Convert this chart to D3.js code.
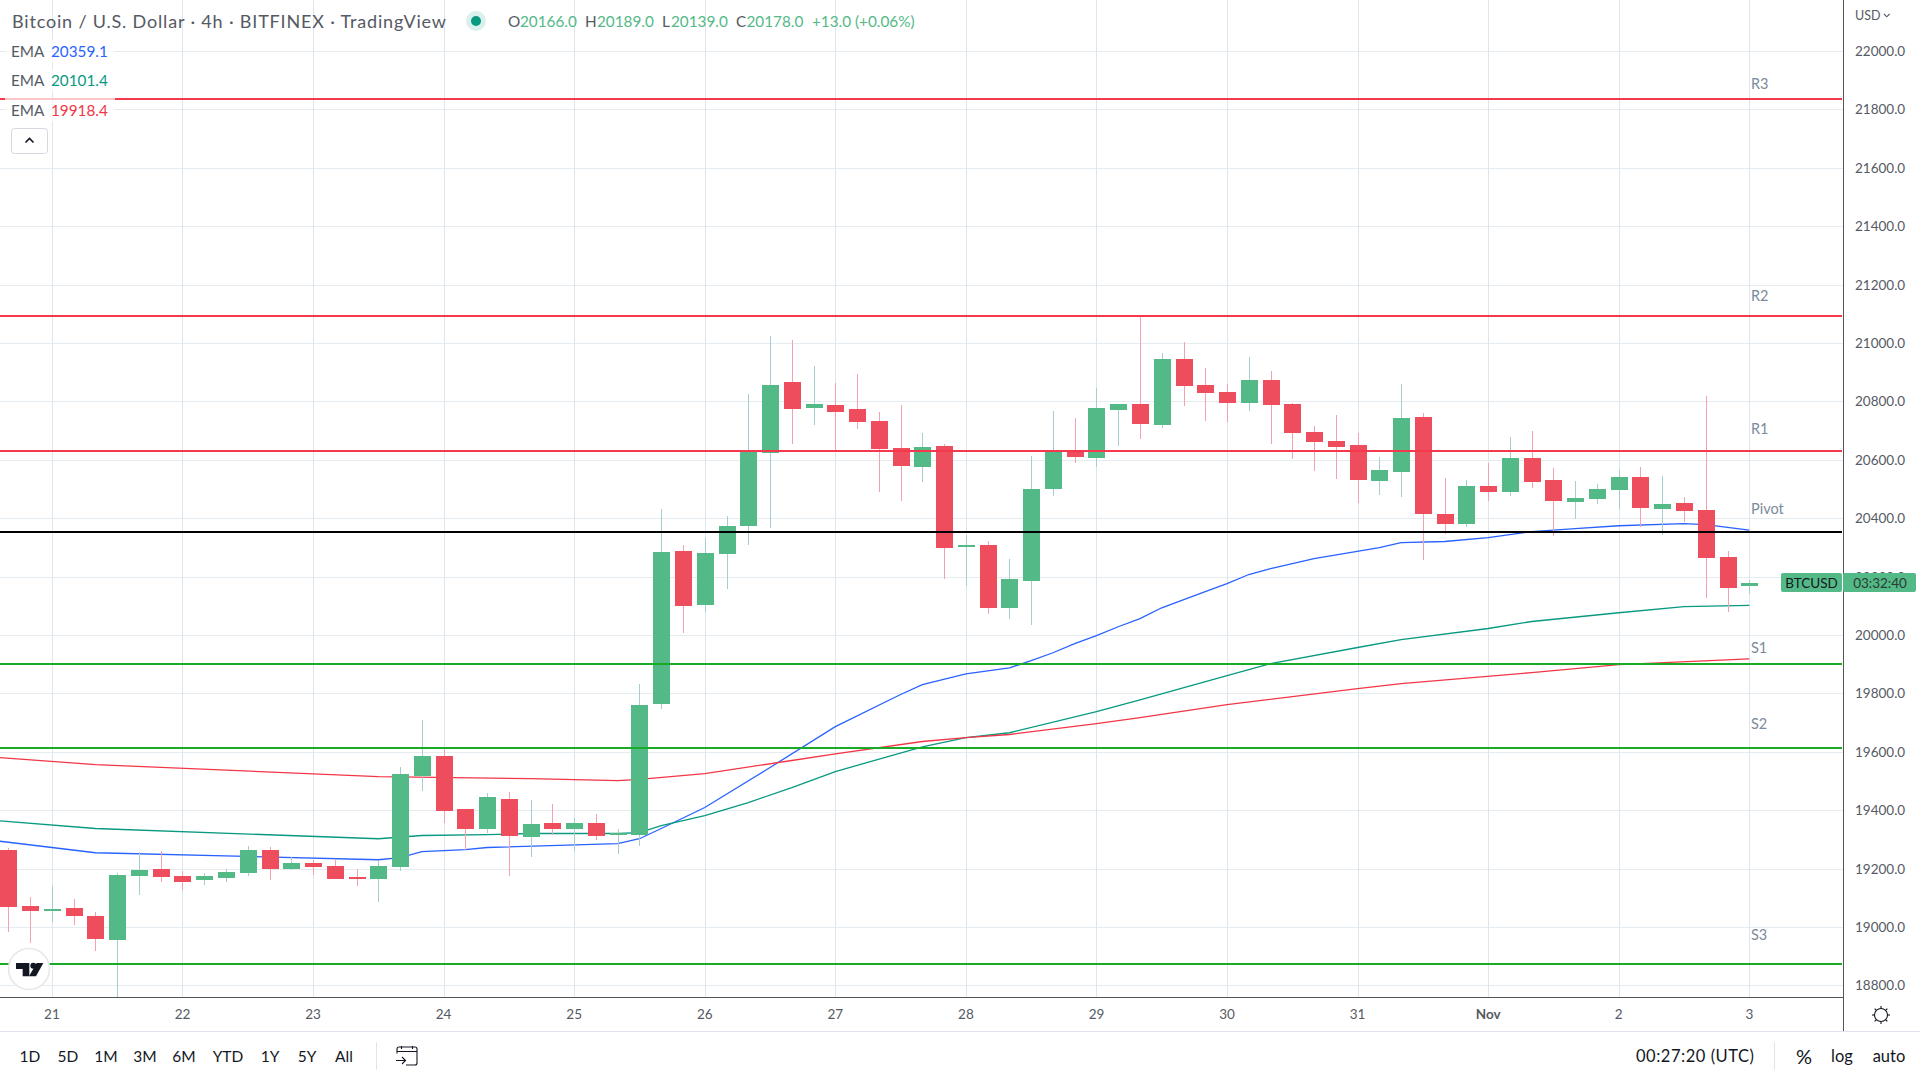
<!DOCTYPE html>
<html>
<head>
<meta charset="utf-8">
<script src="https://cdn.jsdelivr.net/npm/d3@7"></script>
<style>
html,body{margin:0;padding:0;background:#fff;overflow:hidden}
svg{display:block}
text{font-family:Lato,"Noto Sans",sans-serif}
</style>
</head>
<body>
<script>
// ---- data ----
const open  = [19265,19070,19056,19066,19039,18956,19176,19200,19176,19159,19169,19186,19265,19200,19220,19210,19172,19165,19206,19518,19587,19405,19337,19439,19309,19357,19337,19357,19316,19316,19765,20289,20104,20278,20374,20624,20867,20778,20789,20775,20734,20641,20576,20648,20302,20309,20093,20186,20501,20635,20607,20772,20792,20720,20946,20857,20833,20796,20874,20792,20696,20665,20652,20528,20559,20748,20415,20381,20511,20491,20607,20532,20456,20467,20498,20542,20433,20453,20429,20268,20166];
const high  = [19270,19104,19141,19094,19052,19183,19258,19261,19193,19183,19200,19278,19272,19238,19230,19234,19200,19227,19549,19710,19611,19405,19460,19463,19433,19422,19374,19385,19337,19833,20433,20309,20333,20409,20826,21025,21011,20922,20864,20895,20765,20789,20693,20655,20343,20323,20261,20614,20768,20744,20847,20792,21093,20967,21005,20915,20861,20953,20905,20796,20717,20754,20693,20611,20861,20761,20539,20532,20590,20679,20700,20573,20528,20518,20566,20576,20546,20474,20820,20289,20189];
const low   = [18982,18944,19016,19008,18916,18760,19108,19153,19125,19145,19155,19173,19159,19196,19179,19165,19141,19087,19193,19467,19357,19265,19320,19176,19241,19316,19261,19296,19251,19278,19748,20008,20080,20159,20309,20367,20655,20720,20635,20706,20491,20460,20525,20193,20169,20073,20056,20035,20477,20590,20576,20648,20672,20710,20785,20734,20730,20768,20655,20604,20563,20535,20453,20480,20474,20258,20347,20371,20460,20477,20504,20340,20398,20450,20433,20371,20343,20388,20128,20080,20139];
const close = [19067,19056,19063,19039,18960,19179,19196,19172,19155,19176,19189,19265,19200,19220,19206,19165,19165,19210,19522,19587,19398,19337,19446,19313,19354,19337,19357,19313,19323,19761,20285,20100,20282,20374,20631,20857,20775,20792,20765,20730,20638,20580,20645,20299,20309,20093,20193,20501,20631,20611,20778,20792,20724,20946,20854,20830,20796,20874,20789,20693,20662,20645,20532,20566,20744,20415,20381,20511,20491,20607,20525,20460,20470,20501,20542,20436,20450,20426,20265,20162,20178];

const emaBlueIdx = [-1,4,17,18,19,21,22,28,29,30,32,35,38,41,42,44,46,47,48,49,50,51,52,53,55,56,57,58,60,63,64,66,68,70,72,74,77,78,80];
const emaBlue    = [19299,19254,19230,19237,19258,19265,19272,19285,19302,19337,19409,19546,19686,19796,19830,19867,19887,19912,19939,19970,19998,20028,20056,20093,20148,20176,20207,20227,20261,20299,20316,20320,20333,20354,20364,20374,20381,20378,20359];
const emaGreenIdx = [-1,4,17,19,22,24,28,29,30,32,34,36,38,42,44,46,50,52,56,58,62,64,68,70,74,77,80];
const emaGreen    = [19367,19337,19302,19313,19316,19320,19320,19323,19347,19381,19426,19477,19532,19617,19648,19665,19737,19778,19861,19902,19957,19984,20022,20046,20076,20097,20101];
const emaRedIdx = [-1,4,17,24,28,29,32,36,38,42,44,46,50,52,56,62,64,70,74,80];
const emaRed    = [19583,19556,19515,19508,19501,19505,19525,19570,19593,19635,19648,19659,19696,19717,19761,19816,19833,19871,19898,19918];

const pivotNames  = ["R3","R2","R1","Pivot","S1","S2","S3"];
const pivotPrices = [21834,21092,20631,20352,19900,19612,18874];
const pivotKinds  = ["r","r","r","p","s","s","s"];
const pivotLabelY = [83,295,428,508,647,723,934];

const priceTicks = d3.range(18800,22001,200);
const dayLabels = ["21","22","23","24","25","26","27","28","29","30","31","Nov","2","3"];
const rangeButtons = ["1D","5D","1M","3M","6M","YTD","1Y","5Y","All"];
const rangeX = [30,68,106,145,184,228,270,307,344];

const titleText = "Bitcoin / U.S. Dollar · 4h · BITFINEX · TradingView";
const ohlcLabels = ["O","H","L","C"];
const ohlcValues = ["20166.0","20189.0","20139.0","20178.0"];
const changeText = "+13.0 (+0.06%)";
const legendName = "EMA";
const legendValues = ["20359.1","20101.4","19918.4"];

// ---- layout ----
const W=1920,H=1080, plotR=1843, plotB=997, footerT=1031;
const FONT_AXIS=13.5, FONT_TITLE=18, FONT_LEG=15.3;
const C={grid:"#e4ebf1",vgrid:"#dbe6ee",up:"#53b987",dn:"#ee4d5d",upW:"#a6cdd0",dnW:"#f5a2ae",
 res:"#f5384b",sup:"#19aa28",piv:"#000",blue:"#2962ff",green:"#089981",red:"#f23645",
 axis:"#555",txt:"#555a63",lab:"#7b8b9b",dark:"#131722"};

const x = d3.scaleLinear().domain([0,80]).range([8.4,1749.3]);
const y = d3.scaleLinear().domain([18800,22000]).range([985.3,51]);

const svg = d3.select("body").append("svg").attr("width",W).attr("height",H);
svg.append("rect").attr("width",W).attr("height",H).attr("fill","#fff");
svg.append("clipPath").attr("id","plot").append("rect").attr("width",plotR).attr("height",plotB);
const plot = svg.append("g").attr("clip-path","url(#plot)");

// grid
plot.selectAll("line.h").data(priceTicks).join("line").attr("class","h")
  .attr("x1",0).attr("x2",plotR).attr("y1",d=>Math.round(y(d))+.5).attr("y2",d=>Math.round(y(d))+.5)
  .attr("stroke",C.grid);
const dayIdx = dayLabels.map((_,k)=>2+6*k);
plot.selectAll("line.v").data(dayIdx).join("line").attr("class","v")
  .attr("y1",0).attr("y2",plotB).attr("x1",d=>Math.round(x(d))+.5).attr("x2",d=>Math.round(x(d))+.5)
  .attr("stroke",C.vgrid);

// EMAs
const emaLine = d3.line().x(d=>x(d[0])).y(d=>y(d[1]));
[[emaBlueIdx,emaBlue,C.blue],[emaGreenIdx,emaGreen,C.green],[emaRedIdx,emaRed,C.red]].forEach(([ix,v,c])=>{
  plot.append("path").attr("d",emaLine(ix.map((d,k)=>[d,v[k]]))).attr("fill","none").attr("stroke",c).attr("stroke-width",1.3);
});

// candles
const idx = d3.range(open.length);
const cx = i=>Math.round(x(i));
plot.selectAll("rect.w").data(idx).join("rect").attr("class","w")
  .attr("x",i=>cx(i)).attr("width",1)
  .attr("y",i=>Math.round(y(high[i]))).attr("height",i=>Math.round(y(low[i]))-Math.round(y(high[i])))
  .attr("fill",i=>close[i]>=open[i]?C.upW:C.dnW);
plot.selectAll("rect.b").data(idx).join("rect").attr("class","b")
  .attr("x",i=>cx(i)-8).attr("width",17)
  .attr("y",i=>Math.round(y(Math.max(open[i],close[i]))))
  .attr("height",i=>Math.max(2,Math.round(y(Math.min(open[i],close[i])))-Math.round(y(Math.max(open[i],close[i])))))
  .attr("fill",i=>close[i]>=open[i]?C.up:C.dn);

// pivot levels
const kindColor={r:C.res,s:C.sup,p:C.piv};
plot.selectAll("line.p").data(pivotPrices).join("line").attr("class","p")
  .attr("x1",0).attr("x2",plotR-1).attr("y1",d=>Math.round(y(d))).attr("y2",d=>Math.round(y(d)))
  .attr("stroke",(d,i)=>kindColor[pivotKinds[i]]).attr("stroke-width",2);
plot.selectAll("text.pl").data(pivotNames).join("text").attr("class","pl")
  .attr("x",1751).attr("y",(d,i)=>pivotLabelY[i]).attr("dominant-baseline","central")
  .attr("font-size",14.5).attr("fill",C.lab).text(d=>d);

// right axis
svg.append("rect").attr("x",plotR+1).attr("y",0).attr("width",W-plotR).attr("height",footerT).attr("fill","#fff");
svg.selectAll("text.pt").data(priceTicks).join("text").attr("class","pt")
  .attr("x",1855).attr("y",d=>y(d)).attr("dominant-baseline","central")
  .attr("font-size",FONT_AXIS).attr("fill",C.txt).text(d=>d.toFixed(1));
svg.append("rect").attr("x",plotR).attr("y",0).attr("width",1).attr("height",footerT).attr("fill",C.axis);
svg.append("rect").attr("x",0).attr("y",plotB).attr("width",plotR).attr("height",1).attr("fill",C.axis);
svg.append("rect").attr("x",0).attr("y",footerT).attr("width",W).attr("height",1).attr("fill","#e0e3eb");

svg.append("text").attr("x",1855).attr("y",15).attr("dominant-baseline","central").attr("font-size",12.5).attr("fill",C.txt).text("USD");
svg.append("path").attr("d","M1884 14l2.8 2.8l2.8-2.8").attr("fill","none").attr("stroke",C.txt).attr("stroke-width",1.1);

// day labels
svg.selectAll("text.dl").data(dayLabels).join("text").attr("class","dl")
  .attr("x",(d,i)=>x(dayIdx[i])).attr("y",1014).attr("text-anchor","middle").attr("dominant-baseline","central")
  .attr("font-size",13.5).attr("fill",C.txt).attr("font-weight",d=>d==="Nov"?700:400).text(d=>d);

// last price tag
const tagY=y(close[close.length-1]);
svg.append("rect").attr("x",1781).attr("y",Math.round(tagY-9.5)).attr("width",61).attr("height",19).attr("rx",2).attr("fill",C.up);
svg.append("rect").attr("x",1843).attr("y",Math.round(tagY-9.5)).attr("width",73).attr("height",19).attr("rx",2).attr("fill",C.up);
svg.append("text").attr("x",1811.5).attr("y",tagY+.5).attr("text-anchor","middle").attr("dominant-baseline","central").attr("font-size",13.5).attr("fill",C.dark).text("BTCUSD");
svg.append("text").attr("x",1880).attr("y",tagY+.5).attr("text-anchor","middle").attr("dominant-baseline","central").attr("font-size",13.5).attr("fill","#2b3a33").text("03:32:40");

// legend
svg.append("text").attr("x",12).attr("y",21).attr("dominant-baseline","central").attr("font-size",FONT_TITLE)
  .attr("textLength",434).attr("lengthAdjust","spacing").attr("fill",C.txt).text(titleText);
svg.append("circle").attr("cx",476).attr("cy",21).attr("r",10).attr("fill",C.green).attr("opacity",.15);
svg.append("circle").attr("cx",476).attr("cy",21).attr("r",5).attr("fill",C.green);
const ohlcLabX=[508,585,662,736], ohlcValX=[520,597,671,746.5];
ohlcLabels.forEach((l,i)=>{
  svg.append("text").attr("x",ohlcLabX[i]).attr("y",21).attr("dominant-baseline","central").attr("font-size",FONT_LEG).attr("fill",C.txt).text(l);
  svg.append("text").attr("x",ohlcValX[i]).attr("y",21).attr("dominant-baseline","central").attr("font-size",FONT_LEG).attr("fill",C.up).text(ohlcValues[i]);
});
svg.append("text").attr("x",812).attr("y",21).attr("dominant-baseline","central").attr("font-size",FONT_LEG).attr("fill",C.up).text(changeText);

const legY=[50.5,80,110], legC=[C.blue,C.green,C.red], legBg=[[40,23],[69,23],[98,24]];
legendValues.forEach((v,i)=>{
  svg.append("rect").attr("x",5).attr("y",legBg[i][0]).attr("width",110).attr("height",legBg[i][1]).attr("fill","#fff").attr("opacity",.7);
  svg.append("text").attr("x",11).attr("y",legY[i]).attr("dominant-baseline","central").attr("font-size",FONT_LEG).attr("fill",C.txt).text(legendName);
  svg.append("text").attr("x",51).attr("y",legY[i]).attr("dominant-baseline","central").attr("font-size",FONT_LEG).attr("fill",legC[i]).text(v);
});
svg.append("rect").attr("x",11.5).attr("y",128.5).attr("width",36).attr("height",25).attr("rx",3).attr("fill","#fff").attr("stroke","#d6d8e0");
svg.append("path").attr("d","M25.5 142.5l4-4l4 4").attr("fill","none").attr("stroke",C.dark).attr("stroke-width",1.6);

// logo
svg.append("circle").attr("cx",29).attr("cy",969).attr("r",20.5).attr("fill","#fff").attr("stroke","#e6e6e8").attr("stroke-width",1.5);
const logo=svg.append("g").attr("transform","translate(16,963) scale(0.3333)").attr("fill",C.dark);
logo.append("path").attr("d","M0 0H40V40H20V18H0Z");
logo.append("circle").attr("cx",52).attr("cy",8).attr("r",9);
logo.append("path").attr("d","M62 0H82L60 40H39Z");

// footer
svg.selectAll("text.rb").data(rangeButtons).join("text").attr("class","rb")
  .attr("x",(d,i)=>rangeX[i]).attr("y",1056).attr("text-anchor","middle").attr("dominant-baseline","central")
  .attr("font-size",15.5).attr("fill",C.dark).text(d=>d);
[376,1774].forEach(px=>svg.append("rect").attr("x",px).attr("y",1042).attr("width",1).attr("height",28).attr("fill","#e0e3eb"));
const cal=svg.append("g").attr("fill","none").attr("stroke",C.dark).attr("stroke-width",1.1);
cal.append("path").attr("d","M397 1053.5V1049a2 2 0 0 1 2-2H415a2 2 0 0 1 2 2V1063a2 2 0 0 1-2 2H406M397 1051.5H417M401.5 1046V1049M412.5 1046V1049M396 1060.5H405M402 1057l3.5 3.5L402 1064");
svg.append("text").attr("x",1636).attr("y",1056).attr("dominant-baseline","central").attr("font-size",16.5)
  .attr("textLength",118).attr("lengthAdjust","spacing").attr("fill",C.dark).text("00:27:20 (UTC)");
[["%",1804,20],["log",1842,16.5],["auto",1889,16.5]].forEach(([t,px,fs])=>svg.append("text").attr("x",px).attr("y",1056).attr("text-anchor","middle").attr("dominant-baseline","central").attr("font-size",fs).attr("fill",C.dark).text(t));

// gear
const gear=svg.append("g").attr("transform","translate(1881,1015)").attr("stroke",C.dark).attr("fill","none").attr("stroke-width",1.1);
gear.append("circle").attr("r",6.5);
d3.range(8).forEach(k=>{const a=k*Math.PI/4;gear.append("line").attr("x1",6.5*Math.cos(a)).attr("y1",6.5*Math.sin(a)).attr("x2",9*Math.cos(a)).attr("y2",9*Math.sin(a));});
</script>
</body>
</html>
